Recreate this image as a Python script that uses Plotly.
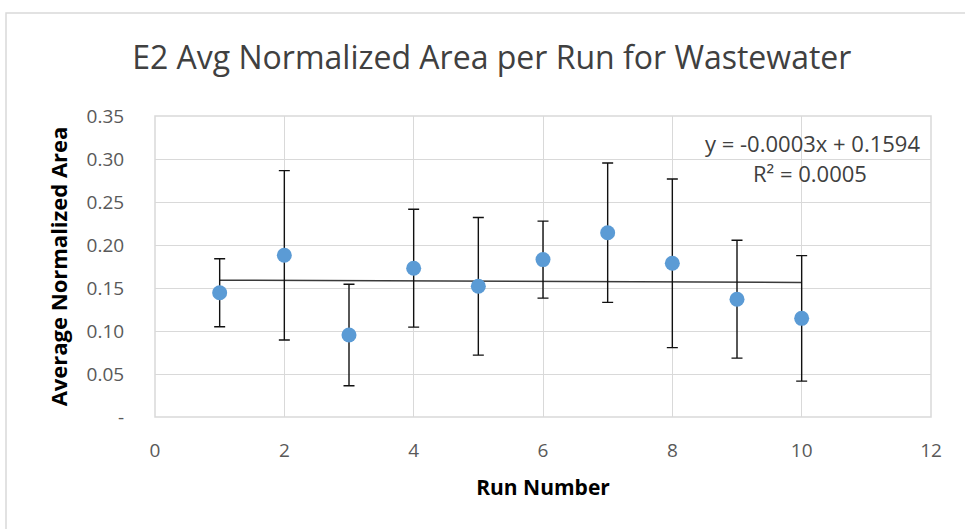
import numpy as np
import plotly.graph_objects as go

runs = [1, 2, 3, 4, 5, 6, 7, 8, 9, 10]
avg_area = [0.1445, 0.188, 0.0953, 0.173, 0.152, 0.183, 0.2143, 0.1787, 0.137, 0.1147]
err = [0.0395, 0.0985, 0.059, 0.0685, 0.08, 0.0448, 0.081, 0.098, 0.0685, 0.073]
trend_slope = -0.0003
trend_intercept = 0.1594
y_tickvals = [0, 0.05, 0.10, 0.15, 0.20, 0.25, 0.30, 0.35]
y_ticktext = ["-", "0.05", "0.10", "0.15", "0.20", "0.25", "0.30", "0.35"]
x_tickvals = [0, 2, 4, 6, 8, 10, 12]

trend_x = [min(runs), max(runs)]
trend_y = [trend_slope * v + trend_intercept for v in trend_x]

FONT = "Open Sans"
fig = go.Figure()
fig.add_trace(go.Scatter(x=trend_x, y=trend_y, mode="lines",
                         line=dict(color="#3a3a3a", width=1.5), hoverinfo="skip"))
fig.add_trace(go.Scatter(
    x=runs, y=avg_area, mode="markers",
    marker=dict(color="#5B9BD5", size=15),
    error_y=dict(type="data", array=err, visible=True, color="#111111",
                 thickness=1.4, width=5.5),
))

fig.update_layout(
    width=965, height=529,
    margin=dict(l=155, r=34, t=116, b=112),
    paper_bgcolor="white", plot_bgcolor="white",
    showlegend=False,
    title=dict(text="E2 Avg Normalized Area per Run for Wastewater",
               font=dict(family=FONT, size=32, color="#404040"),
               x=0.434, xref="paper", xanchor="center", y=0.89, yanchor="middle"),
    xaxis=dict(range=[0, 12], tickvals=x_tickvals, showgrid=True,
               gridcolor="#d9d9d9", gridwidth=1, zeroline=False,
               showline=False, ticks="outside", ticklen=16, tickcolor="rgba(0,0,0,0)",
               tickfont=dict(family=FONT, size=19, color="#595959"),
               title=dict(text="<b>Run Number</b>", standoff=18,
                          font=dict(family=FONT, size=21, color="#000000"))),
    yaxis=dict(range=[0, 0.35], tickvals=y_tickvals, ticktext=y_ticktext,
               showgrid=True, gridcolor="#d9d9d9", gridwidth=1, zeroline=False,
               showline=False, ticks="outside", ticklen=26, tickcolor="rgba(0,0,0,0)",
               tickfont=dict(family=FONT, size=19, color="#595959"),
               title=dict(text="<b>Average Normalized Area</b>", standoff=12,
                          font=dict(family=FONT, size=22, color="#000000"))),
    shapes=[
        dict(type="rect", xref="paper", yref="paper", x0=0, x1=1, y0=0, y1=1,
             line=dict(color="#d9d9d9", width=1.5)),
        dict(type="rect", xref="paper", yref="paper", x0=-0.192, x1=1.2, y0=-0.6, y1=1.342,
             line=dict(color="#d9d9d9", width=1.5)),
    ],
    annotations=[
        dict(text="y = -0.0003x + 0.1594", xref="paper", yref="paper",
             x=0.988, y=0.91, xanchor="right", yanchor="middle", showarrow=False,
             font=dict(family=FONT, size=22, color="#404040")),
        dict(text="R² = 0.0005", xref="paper", yref="paper",
             x=0.844, y=0.81, xanchor="center", yanchor="middle", showarrow=False,
             font=dict(family=FONT, size=22, color="#404040")),
    ],
)

fig.write_html("out.html")
